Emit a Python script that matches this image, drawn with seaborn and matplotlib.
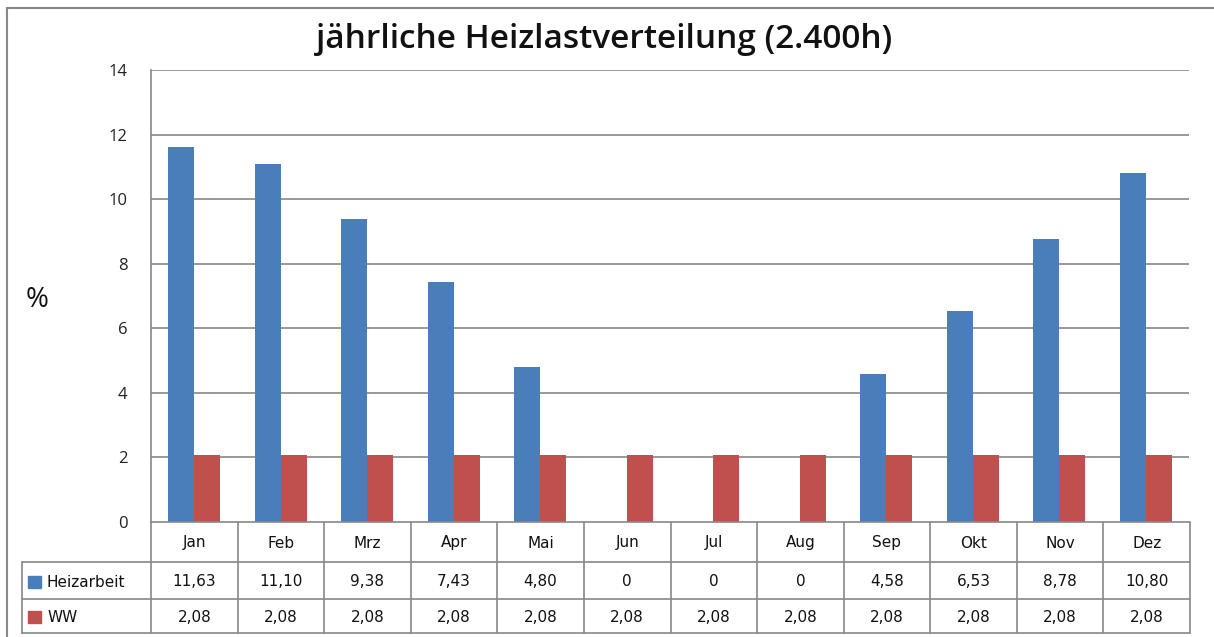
import matplotlib
matplotlib.use("Agg")
import matplotlib.pyplot as plt
from matplotlib.lines import Line2D
from matplotlib.patches import Rectangle
import seaborn as sns
import pandas as pd

months = ["Jan", "Feb", "Mrz", "Apr", "Mai", "Jun", "Jul", "Aug", "Sep", "Okt", "Nov", "Dez"]
heizarbeit = [11.63, 11.10, 9.38, 7.43, 4.80, 0, 0, 0, 4.58, 6.53, 8.78, 10.80]
ww = [2.08] * 12
series_names = ["Heizarbeit", "WW"]
yticks = [0, 2, 4, 6, 8, 10, 12, 14]
title = "jährliche Heizlastverteilung (2.400h)"
colors = ["#4A7EBB", "#C0504D"]

df = pd.DataFrame({
    "Monat": months * 2,
    "Wert": heizarbeit + ww,
    "Serie": [series_names[0]] * 12 + [series_names[1]] * 12,
})

sns.set_theme(style="white")
plt.rcParams["font.family"] = ["Open Sans", "DejaVu Sans"]

W, H = 1214, 637
fig = plt.figure(figsize=(W / 100, H / 100), dpi=100)

L, R, T, B = 151, 1189, 70, 522
ax = fig.add_axes([L / W, 1 - B / H, (R - L) / W, (B - T) / H])
sns.barplot(data=df, x="Monat", y="Wert", hue="Serie", palette=colors,
            width=0.6, saturation=1, ax=ax, legend=False, edgecolor="none")
ax.set_ylim(0, 14)
ax.set_xlim(-0.5, 11.5)
ax.set_yticks(yticks)
ax.set_yticklabels([str(t) for t in yticks], fontsize=12, color="#222222")
ax.set_xticks([])
ax.set_xlabel("")
ax.set_ylabel("")
for s in ["top", "right", "bottom"]:
    ax.spines[s].set_visible(False)
ax.spines["left"].set_color("#888888")
ax.spines["left"].set_linewidth(1.2)
ax.tick_params(axis="y", length=0, pad=17)
for t in yticks[1:]:
    ax.axhline(t, color="#888888", lw=1.2, zorder=0)
ax.set_axisbelow(True)

fig.text(604 / W, 1 - 40 / H, title, ha="center", va="center", fontsize=24,
         fontweight="semibold", color="#111111")
fig.text(37 / W, 1 - 300 / H, "%", ha="center", va="center", fontsize=20, color="#111111")

fig.add_artist(Line2D([7 / W, 1.0], [1 - 8 / H, 1 - 8 / H], color="#888888", lw=1.5))
fig.add_artist(Line2D([7 / W, 7 / W], [1 - 8 / H, 0], color="#888888", lw=1.5))

tx0, tx1, ty0, ty1 = 22, 1190, 522, 633
tax = fig.add_axes([tx0 / W, 1 - ty1 / H, (tx1 - tx0) / W, (ty1 - ty0) / H])
tax.set_xlim(tx0, tx1)
tax.set_ylim(ty1, ty0)
tax.axis("off")
gc = "#888888"
lw = 1.2
colw = (tx1 - L) / 12
r1, r2 = 562, 599
tax.plot([L, tx1], [ty0, ty0], color=gc, lw=lw, clip_on=False)
for y in [r1, r2, ty1]:
    tax.plot([tx0, tx1], [y, y], color=gc, lw=lw, clip_on=False)
tax.plot([tx0, tx0], [r1, ty1], color=gc, lw=lw, clip_on=False)
for i in range(13):
    x = L + i * colw
    tax.plot([x, x], [ty0, ty1], color=gc, lw=lw, clip_on=False)

def fmt(v):
    if v == 0:
        return "0"
    return f"{v:.2f}".replace(".", ",")

rows = [heizarbeit, ww]
rowy = [(r1 + r2) / 2 + 1, (r2 + ty1) / 2 + 1]
for i, m in enumerate(months):
    cx = L + (i + 0.5) * colw
    tax.text(cx, (ty0 + r1) / 2 + 1, m, ha="center", va="center", fontsize=11,
             family=["DejaVu Sans"], color="#111111")
    for vals, y in zip(rows, rowy):
        tax.text(cx, y, fmt(vals[i]), ha="center", va="center", fontsize=11,
                 family=["DejaVu Sans"], color="#111111")
for name, c, y in zip(series_names, colors, rowy):
    tax.add_patch(Rectangle((28, y - 6), 13, 12, color=c, clip_on=False))
    tax.text(47, y + 1, name, ha="left", va="center", fontsize=11,
             family=["DejaVu Sans"], color="#111111")

fig.savefig("out.png", dpi=100)
